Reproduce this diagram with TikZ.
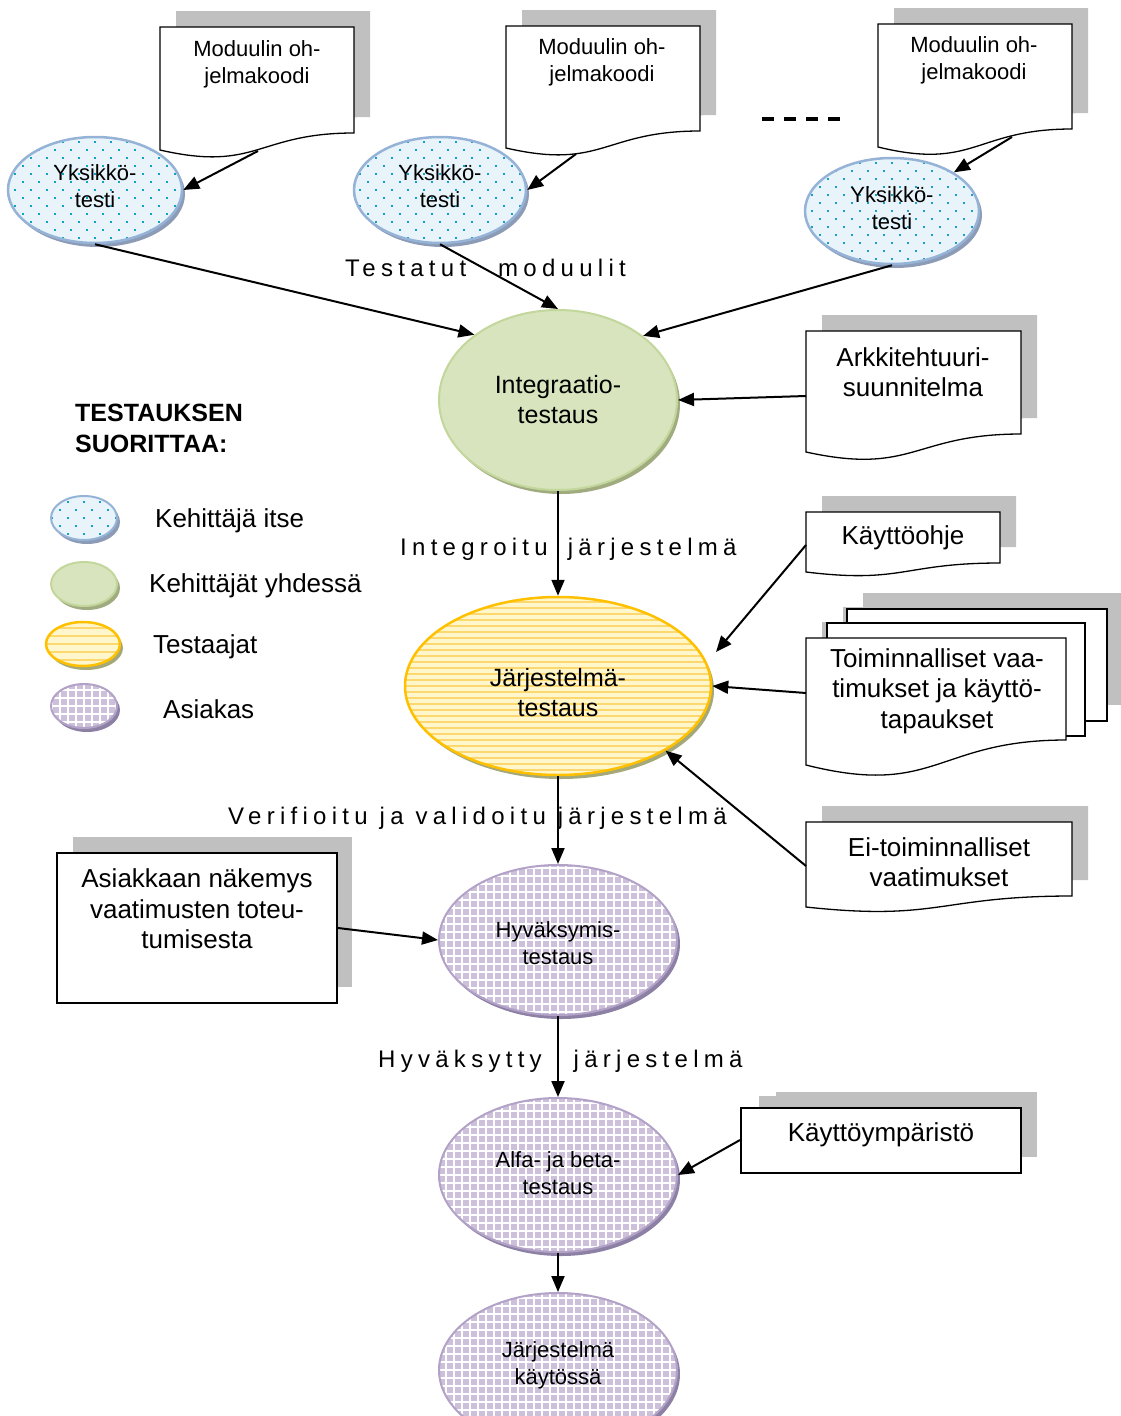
\documentclass[tikz,border=0pt]{standalone}
\usepackage{fontspec}
\setmainfont{Liberation Sans}
\newfontfamily\spacedfont[LetterSpace=22]{Liberation Sans}
\usetikzlibrary{arrows.meta,shapes.geometric}

\definecolor{docgray}{RGB}{192,192,192}
\definecolor{blueFill}{RGB}{232,244,250}
\definecolor{blueLine}{RGB}{149,179,215}
\definecolor{blueShade}{RGB}{140,155,182}
\definecolor{blueDot}{RGB}{20,160,200}
\definecolor{greenFill}{RGB}{215,228,189}
\definecolor{greenLine}{RGB}{195,214,155}
\definecolor{greenShade}{RGB}{160,172,128}
\definecolor{yelFill}{RGB}{255,246,204}
\definecolor{yelStripe}{RGB}{252,216,110}
\definecolor{yelLine}{RGB}{255,192,0}
\definecolor{yelShade}{RGB}{165,168,120}
\definecolor{purFill}{RGB}{204,192,218}
\definecolor{purLine}{RGB}{179,162,199}
\definecolor{purShade}{RGB}{140,128,165}

% document shape with a wavy lower edge: options, left, top, right, lower-right y, lower-left y
\newcommand\docshape[6]{\path[#1] (#2,#3) -- (#4,#3) -- (#4,#5)
  .. controls ({(#2+#4)/2},#5) and ({(#2+#4)/2},{#6+1.314*(#6-#5)}) .. (#2,#6) -- cycle;}
% oval body with its drop shadow: cx, cy, rx, ry, fill, shadow
\newcommand\ovalbase[6]{%
  \fill[#6] ({#1+3},{#2+4}) ellipse (#3 and #4);
  \fill[#5] (#1,#2) ellipse (#3 and #4);}
% dotted fill inside an oval
\newcommand\dotpat[4]{%
  \begin{scope}
    \clip (#1,#2) ellipse (#3 and #4);
    \foreach \j in {-8,...,8} \foreach \i in {-7,...,7}
      \fill[blueDot] ({#1+16*\i+8*mod(\j,2)-1},{#2+8*\j-1}) rectangle ++(2,2);
  \end{scope}}
% horizontal stripes inside an oval
\newcommand\stripepat[5]{%
  \begin{scope}
    \clip (#1,#2) ellipse (#3 and #4);
    \foreach \k in {-16,...,16}
      \fill[yelStripe] ({#1-#3},{#2+#5*\k-1}) rectangle ({#1+#3},{#2+#5*\k+1});
  \end{scope}}
% white grid inside an oval
\newcommand\gridpat[5]{%
  \begin{scope}
    \clip (#1,#2) ellipse (#3 and #4);
    \foreach \k in {-17,...,17} {
      \fill[white] ({#1+#5*\k-1},{#2-#4}) rectangle ({#1+#5*\k+1},{#2+#4});
      \fill[white] ({#1-#3},{#2+#5*\k-1}) rectangle ({#1+#3},{#2+#5*\k+1});
    }
  \end{scope}}

\begin{document}
\begin{tikzpicture}[x=1pt,y=-1pt,
  docpage/.style={draw=black, line width=1.3pt, fill=white},
  docshadow/.style={fill=docgray, xshift=16pt, yshift=16pt},
  doctext/.style={align=center, inner sep=0pt, font=\fontsize{26}{30.5}\selectfont},
  modtext/.style={align=center, inner sep=0pt, font=\fontsize{22}{27}\selectfont},
  ovaltext/.style={align=center, inner sep=0pt, font=\fontsize{22}{27}\selectfont},
  bigovaltext/.style={align=center, inner sep=0pt, font=\fontsize{25}{30}\selectfont},
  oval/.style={ellipse, inner sep=0pt},
  legendtext/.style={anchor=west, inner sep=0pt, font=\fontsize{26}{30}\selectfont},
  flowlabel/.style={anchor=west, inner sep=0pt, font=\spacedfont\fontsize{24}{28}\selectfont},
  conn/.style={-{Triangle[length=16pt,width=13pt]}, line width=2pt},
  boxed/.style={rectangle, draw=black, line width=2pt, fill=white, inner sep=0pt}]
\useasboundingbox (0,0) rectangle (1121,1416);

% ---- module program code documents ----
\docshape{docshadow}{160}{27}{354}{133}{150}
\docshape{docpage}{160}{27}{354}{133}{150}
\docshape{docshadow}{506}{26}{700}{131}{148}
\docshape{docpage}{506}{26}{700}{131}{148}
\docshape{docshadow}{878}{24}{1072}{129}{147}
\docshape{docpage}{878}{24}{1072}{129}{147}
\node[modtext] (m1) at (257,64) {Moduulin oh-\\jelmakoodi};
\node[modtext] (m2) at (602,62) {Moduulin oh-\\jelmakoodi};
\node[modtext] (m3) at (974,60) {Moduulin oh-\\jelmakoodi};
\coordinate (m1out) at (258,151);
\coordinate (m2out) at (576,154);
\coordinate (m3out) at (1012,137);
\draw[line width=3.5pt, dash pattern=on 12pt off 10pt] (762,119) -- (840,119);

% ---- unit tests ----
\ovalbase{95}{190}{87}{53}{blueFill}{blueShade}
\dotpat{95}{190}{87}{53}
\node[oval, draw=blueLine, line width=2.5pt, minimum width=174pt, minimum height=106pt] (u1) at (95,190) {};
\node[ovaltext] (u1t) at (95,186) {Yksikkö-\\testi};
\ovalbase{440}{190}{86}{53}{blueFill}{blueShade}
\dotpat{440}{190}{86}{53}
\node[oval, draw=blueLine, line width=2.5pt, minimum width=172pt, minimum height=106pt] (u2) at (440,190) {};
\node[ovaltext] (u2t) at (440,186) {Yksikkö-\\testi};
\ovalbase{892}{211}{87}{53}{blueFill}{blueShade}
\dotpat{892}{211}{87}{53}
\node[oval, draw=blueLine, line width=2.5pt, minimum width=174pt, minimum height=106pt] (u3) at (892,211) {};
\node[ovaltext] (u3t) at (892,208) {Yksikkö-\\testi};

% ---- integration test ----
\ovalbase{558}{400}{119}{90}{greenFill}{greenShade}
\node[oval, draw=greenLine, line width=2pt, minimum width=238pt, minimum height=180pt, bigovaltext] (int) at (558,400) {Integraatio-\\testaus};

\docshape{docshadow}{806}{331}{1021}{434}{452}
\docshape{docpage}{806}{331}{1021}{434}{452}
\node[doctext] (ark) at (913,372) {Arkkitehtuuri-\\suunnitelma};
\coordinate (arkout) at (806,396);

% ---- legend ----
\node[anchor=west, align=left, inner sep=0pt, font=\bfseries\fontsize{25}{31}\selectfont] (lgtitle) at (75,428) {TESTAUKSEN\\SUORITTAA:};
\ovalbase{84}{518}{33}{22}{blueFill}{blueShade}
\dotpat{84}{518}{33}{22}
\node[oval, draw=blueLine, line width=2pt, minimum width=66pt, minimum height=44pt] (lg1) at (84,518) {};
\node[legendtext] (lt1) at (155,521) {Kehittäjä itse};
\ovalbase{84}{584}{33}{22}{greenFill}{greenShade}
\node[oval, draw=greenLine, line width=2pt, minimum width=66pt, minimum height=44pt] (lg2) at (84,584) {};
\node[legendtext] (lt2) at (149,586) {Kehittäjät yhdessä};
\ovalbase{83}{644}{37}{22}{yelFill}{yelShade}
\stripepat{83}{644}{37}{22}{8}
\node[oval, draw=yelLine, line width=2.5pt, minimum width=74pt, minimum height=44pt] (lg3) at (83,644) {};
\node[legendtext] (lt3) at (153,647) {Testaajat};
\ovalbase{84}{706}{33}{22}{purFill}{purShade}
\gridpat{84}{706}{33}{22}{8}
\node[oval, draw=purLine, line width=2pt, minimum width=66pt, minimum height=44pt] (lg4) at (84,706) {};
\node[legendtext] (lt4) at (163,709) {Asiakas};

% ---- system test ----
\ovalbase{558}{686}{153}{89}{yelFill}{yelShade}
\stripepat{558}{686}{153}{89}{6}
\node[oval, draw=yelLine, line width=2.5pt, minimum width=306pt, minimum height=178pt] (sys) at (558,686) {};
\node[bigovaltext] (syst) at (558,693) {Järjestelmä-\\testaus};

\docshape{docshadow}{806}{512}{1000}{563}{572}
\docshape{docpage}{806}{512}{1000}{563}{572}
\node[doctext] (koh) at (903,538) {Käyttöohje};
\coordinate (kohout) at (806,545);
\coordinate (kohtip) at (716,652);

% stacked requirement documents
\fill[docgray] (863,593) rectangle (1121,705);
\fill[docgray] (843,607) rectangle (1101,720);
\docshape{docshadow}{806}{638}{1066}{740}{765}
\draw[docpage] (847,609) rectangle (1107,721);
\draw[docpage] (827,623) rectangle (1085,736);
\docshape{docpage}{806}{638}{1066}{740}{765}
\node[doctext] (toim) at (937,691) {Toiminnalliset vaa-\\timukset ja käyttö-\\tapaukset};
\coordinate (toimout) at (806,693);

\docshape{docshadow}{806}{822}{1072}{896}{907}
\docshape{docpage}{806}{822}{1072}{896}{907}
\node[doctext] (ei) at (939,862) {Ei-toiminnalliset\\vaatimukset};
\coordinate (eiout) at (806,866);

% ---- acceptance test ----
\ovalbase{558}{940}{119}{75}{purFill}{purShade}
\gridpat{558}{940}{119}{75}{8}
\node[oval, draw=purLine, line width=2pt, minimum width=238pt, minimum height=150pt] (acc) at (558,940) {};
\node[ovaltext] (acct) at (558,943) {Hyväksymis-\\testaus};

\fill[docgray] (73,837) rectangle (352,987);
\node[boxed, minimum width=280pt, minimum height=150pt] (asbox) at (197,928) {};
\node[doctext] (astext) at (197,909) {Asiakkaan näkemys\\vaatimusten toteu-\\tumisesta};

% ---- alpha and beta test ----
\ovalbase{558}{1175}{119}{77}{purFill}{purShade}
\gridpat{558}{1175}{119}{77}{8}
\node[oval, draw=purLine, line width=2pt, minimum width=238pt, minimum height=154pt] (alfa) at (558,1175) {};
\node[ovaltext] (alfat) at (558,1173) {Alfa- ja beta-\\testaus};

\fill[docgray] (759,1096) rectangle (1037,1157);
\fill[docgray] (776,1092) rectangle (1037,1157);
\node[boxed, minimum width=280pt, minimum height=65pt] (kybox) at (881,1140) {};
\node[doctext] (kytext) at (881,1135) {Käyttöympäristö};

% ---- system in use ----
\ovalbase{558}{1370}{119}{77}{purFill}{purShade}
\gridpat{558}{1370}{119}{77}{8}
\node[oval, draw=purLine, line width=2pt, minimum width=238pt, minimum height=154pt] (kay) at (558,1370) {};
\node[ovaltext] (kayt) at (558,1365) {Järjestelmä\\käytössä};

% ---- flow labels ----
\node[flowlabel] (lbl1) at (345,268) {Testatut\hspace{32pt}moduulit};
\node[flowlabel] (lbl2) at (400,549) {Integroitu\hspace{20pt}järjestelmä};
\node[flowlabel] (lbl3) at (228,818) {Verifioitu ja validoitu järjestelmä};
\node[flowlabel] (lbl4) at (378,1061) {Hyväksytty\hspace{32pt}järjestelmä};

% ---- connectors ----
\draw[conn] (m1out) -- (u1.east);
\draw[conn] (m2out) -- (u2.east);
\draw[conn] (m3out) -- (u3.32);
\draw[conn] (u1.south) -- (int.142);
\draw[conn] (u2.south) -- (int.north);
\draw[conn] (u3.south) -- (int.37);
\draw[conn] (arkout) -- (int.east);
\draw[conn] (int.south) -- (sys.north);
\draw[conn] (kohout) -- (kohtip);
\draw[conn] (toimout) -- (sys.east);
\draw[conn] (eiout) -- (sys.-31);
\draw[conn] (sys.south) -- (acc.north);
\draw[conn] (asbox.east) -- (acc.west);
\draw[conn] (acc.south) -- (alfa.north);
\draw[conn] (kybox.west) -- (alfa.east);
\draw[conn] (alfa.south) -- (kay.north);
\end{tikzpicture}
\end{document}
